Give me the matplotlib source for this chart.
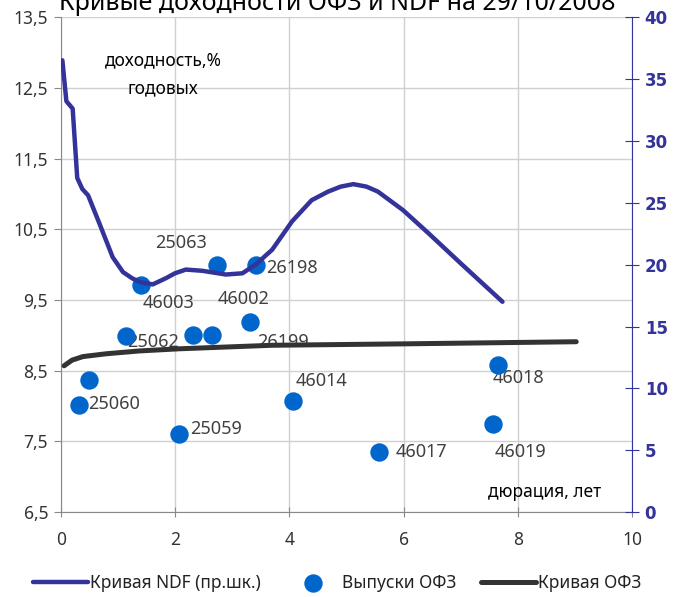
import matplotlib.pyplot as plt
from matplotlib.ticker import FuncFormatter

plt.rcParams['font.family'] = ['Noto Sans', 'DejaVu Sans']

# NDF curve, right axis (%)
ndf_x = [0.03, 0.10, 0.21, 0.29, 0.38, 0.48, 0.68, 0.91, 1.09, 1.25, 1.38, 1.61, 1.84, 2.00,
         2.19, 2.48, 2.89, 3.18, 3.41, 3.70, 4.05, 4.39, 4.68, 4.90, 5.12, 5.35, 5.55, 5.99,
         6.42, 7.00, 7.73]
ndf_y = [36.5, 33.2, 32.6, 27.0, 26.1, 25.6, 23.3, 20.6, 19.4, 18.9, 18.6, 18.4, 18.9, 19.3,
         19.6, 19.5, 19.2, 19.3, 20.0, 21.2, 23.5, 25.2, 25.9, 26.3, 26.5, 26.3, 25.9, 24.4,
         22.6, 20.1, 17.0]

# OFZ curve, left axis
ofz_x = [0.06, 0.20, 0.39, 0.80, 1.38, 2.07, 3.70, 6.00, 9.02]
ofz_y = [8.57, 8.65, 8.70, 8.74, 8.78, 8.81, 8.86, 8.88, 8.91]

# OFZ issues
bond_x = [0.32, 0.49, 1.15, 1.40, 2.07, 2.32, 2.64, 2.74, 3.41, 3.32, 4.07, 5.57, 7.66, 7.57]
bond_y = [8.01, 8.37, 8.99, 9.71, 7.60, 9.00, 9.01, 10.00, 10.00, 9.19, 8.07, 7.35, 8.58, 7.75]
bond_names = ['25060', '', '25062', '46003', '25059', '', '26199', '25063', '26198',
              '46002', '46014', '46017', '46018', '46019']
# label offsets from the dot, pixels (dx, dy up)
label_off = [(35, 1), (0, 0), (27, -6), (28, -18), (37, 5), (0, 0), (71, -7), (-36, 22),
             (36, -3), (-7, 23), (28, 20), (42, 0), (20, -13), (27, -28)]

left_ticks = [6.5, 7.5, 8.5, 9.5, 10.5, 11.5, 12.5, 13.5]
right_ticks = [0, 5, 10, 15, 20, 25, 30, 35, 40]

NAVY = '#333399'
DOT = '#0066cc'
GRID = '#d0d0d0'

fig = plt.figure(figsize=(6.74, 5.97), dpi=100)
ax = fig.add_axes([0.090, 0.142, 0.848, 0.8295])
ax2 = ax.twinx()

ax.grid(True, color=GRID, linewidth=1)
ax.set_axisbelow(True)
ax.set_xlim(0, 10)
ax.set_ylim(6.5, 13.5)
ax.set_xticks([0, 2, 4, 6, 8, 10])
ax.set_yticks(left_ticks)
ax.yaxis.set_major_formatter(FuncFormatter(lambda v, p: f'{v:.1f}'.replace('.', ',')))
ax.tick_params(axis='y', direction='out', length=5, color='#888888', labelsize=12.5,
               labelcolor='#333333', pad=4)
ax.tick_params(axis='x', direction='inout', length=7, color='#888888', labelsize=12.5,
               labelcolor='#333333', pad=10)
for s in ['top', 'right']:
    ax.spines[s].set_visible(False)
ax.spines['left'].set_color('#888888')
ax.spines['bottom'].set_color('#888888')

bonds = ax.scatter(bond_x, bond_y, s=150, color=DOT, zorder=3)
for bx, by, name, (dx, dy) in zip(bond_x, bond_y, bond_names, label_off):
    if name:
        ax.annotate(name, (bx, by), xytext=(dx * 0.72, dy * 0.72), textcoords='offset points',
                    ha='center', va='center', fontsize=13, color='#404040', zorder=2)
ofz_line, = ax.plot(ofz_x, ofz_y, color='#333333', linewidth=3.6, zorder=4,
                    solid_capstyle='round', solid_joinstyle='round')

ax2.set_ylim(0, 40)
ax2.set_yticks(right_ticks)
ndf_line, = ax2.plot(ndf_x, ndf_y, color=NAVY, linewidth=3.2, solid_capstyle='round',
                     solid_joinstyle='round')
for s in ['top', 'left', 'bottom']:
    ax2.spines[s].set_visible(False)
ax2.spines['right'].set_color(NAVY)
ax2.tick_params(axis='y', direction='inout', length=10, color=NAVY, labelsize=12.5,
                labelcolor=NAVY, pad=4)


def px(x, y):
    return x / 674, 1 - y / 597


fig.text(*px(163, 60), 'доходность,%', ha='center', va='center', fontsize=12.5, color='black')
fig.text(*px(163, 88), 'годовых', ha='center', va='center', fontsize=12.5, color='black')
fig.text(*px(545, 492), 'дюрация, лет', ha='center', va='center', fontsize=12.5, color='black')
fig.text(0.5, 1 - 10 / 597, 'Кривые доходности ОФЗ и NDF на 29/10/2008', ha='center',
         va='baseline', fontsize=18, color='black')

fig.legend([ndf_line, bonds, ofz_line], ['Кривая NDF (пр.шк.)', 'Выпуски ОФЗ', 'Кривая ОФЗ'],
           loc='center', bbox_to_anchor=(0.5, 1 - 583 / 597), ncol=3, frameon=False,
           fontsize=12.5, handlelength=3.2, handletextpad=0.1, columnspacing=1.4,
           labelcolor='#222222')

# bold right-axis labels (ticks exist only after a draw)
fig.canvas.draw()
for tick in ax2.yaxis.get_major_ticks():
    tick.label2.set_fontweight('bold')
    tick.label2.set_family(['DejaVu Sans'])
    tick.label2.set_fontsize(12)

fig.savefig('out.png', dpi=100)
